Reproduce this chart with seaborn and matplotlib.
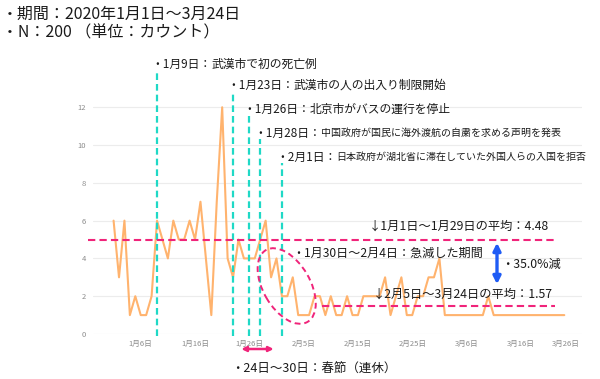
import numpy as np
import pandas as pd
import matplotlib
matplotlib.use("Agg")
import matplotlib.pyplot as plt
import matplotlib.dates as mdates
import matplotlib.transforms as mtransforms
from matplotlib.patches import Ellipse, FancyArrowPatch
import seaborn as sns

W, H = 600, 379

# daily counts, 2020-01-01 .. 2020-03-24
counts = [6, 3, 6, 1, 2, 1, 1, 2, 6, 5, 4, 6, 5, 5, 6, 5, 7, 4, 1, 7, 12, 4, 3, 5, 4, 4, 4, 5, 6,
          3, 4, 2, 2, 3, 1,
          1, 1, 2, 2, 1, 2, 1, 1, 2, 1, 1, 2, 2, 2, 2, 3, 1, 2, 3, 1, 1,
          2, 2, 3, 3, 4,
          1, 1, 1, 1, 1, 1, 1, 1,
          2,
          1, 1, 1, 1, 1, 1, 1, 1, 1, 1, 1, 1, 1, 1]
dates = pd.date_range("2020-01-01", "2020-03-24", freq="D")

event_dates = pd.to_datetime(["2020-01-09", "2020-01-23", "2020-01-26", "2020-01-28", "2020-02-01"])
event_heads = ["・1月9日：", "・1月23日：", "・1月26日：", "・1月28日：", "・2月1日："]
event_bodies = ["武漢市で初の死亡例", "武漢市の人の出入り制限開始", "北京市がバスの運行を停止",
                "中国政府が国民に海外渡航の自粛を求める声明を発表",
                "日本政府が湖北省に滞在していた外国人らの入国を拒否"]
event_small = [False, False, False, True, True]

tick_dates = pd.to_datetime(["2020-01-06", "2020-01-16", "2020-01-26", "2020-02-05", "2020-02-15",
                             "2020-02-25", "2020-03-06", "2020-03-16", "2020-03-26"])
tick_labels = [f"{d.month}月{d.day}日" for d in tick_dates]

holiday = pd.to_datetime(["2020-01-24", "2020-01-31"])
avg_before = 4.48
avg_after = 1.57

df = pd.DataFrame({"date": dates, "count": counts})

sns.set_theme(style="white")
plt.rcParams["font.family"] = ["Noto Sans CJK JP", "DejaVu Sans"]

CYAN = "#1fd9c6"
PINK = "#f0247a"
BLUE = "#1f5cf5"
ORANGE = "#ffb36e"
TXT = "#1a1a1a"


def fx(x):
    return x / W


def fy(y):
    return 1 - y / H


fig = plt.figure(figsize=(W / 100, H / 100), dpi=100)
ax = fig.add_axes([fx(93), fy(334), fx(582) - fx(93), fy(99.7) - fy(334)])

sns.lineplot(data=df, x="date", y="count", ax=ax, color=ORANGE, lw=1.5)

x0 = mdates.date2num(dates[0])
ax.set_xlim(x0 - 3.79, x0 + 86.26)
ax.set_ylim(0, 12.4)
ax.set_yticks(range(0, 13, 2))
ax.set_xticks(mdates.date2num(tick_dates))
ax.set_xticklabels(tick_labels)
ax.set_xlabel("")
ax.set_ylabel("")
ax.tick_params(axis="both", length=0, labelsize=5.5, labelcolor="#8c8c8c")
ax.tick_params(axis="y", pad=5)
ax.tick_params(axis="x", pad=4)
ax.grid(axis="y", color="#ececec", lw=0.8)
ax.grid(axis="x", visible=False)
sns.despine(ax=ax, left=True, bottom=True)
last = ax.get_xticklabels()[-1]
last.set_horizontalalignment("right")
last.set_transform(last.get_transform() + mtransforms.ScaledTranslation(5 / 100, 0, fig.dpi_scale_trans))

# events
trans = mtransforms.blended_transform_factory(ax.transData, fig.transFigure)
label_y = [64, 85, 109, 133, 157]
line_top = [73, 91, 115, 139, 163]
shift = mtransforms.ScaledTranslation(-6 / 100, 0, fig.dpi_scale_trans)
for d, head, body, small, ly, lt in zip(event_dates, event_heads, event_bodies, event_small, label_y, line_top):
    xd = mdates.date2num(d)
    ax.plot([xd, xd], [fy(336), fy(lt)], transform=trans, color=CYAN, lw=1.6,
            ls=(0, (3, 1.8)), clip_on=False, zorder=3)
    t = ax.text(xd, fy(ly), head, transform=trans + shift, ha="left", va="center",
                fontsize=8.5, color=TXT)
    ax.annotate(body, xy=(1, 0.5), xycoords=t, ha="left", va="center",
                fontsize=7.2 if small else 8.5, color=TXT)

# average lines
ax.plot([x0 - 4.7, x0 + 81.3], [5.0, 5.0], color=PINK, lw=1.5, ls=(0, (3.5, 2)), clip_on=False, zorder=3)
ax.plot([x0 + 38.4, x0 + 81.3], [1.5, 1.5], color=PINK, lw=1.5, ls=(0, (3.5, 2)), clip_on=False, zorder=3)
fig.text(fx(369), fy(226), f"↓1月1日～1月29日の平均：{avg_before:.2f}", ha="left", va="center",
         fontsize=8.8, color=TXT)
fig.text(fx(373), fy(294), f"↓2月5日～3月24日の平均：{avg_after:.2f}", ha="left", va="center",
         fontsize=8.8, color=TXT)

# drop arrow
arrow = FancyArrowPatch((fx(497), fy(240)), (fx(497), fy(287)), transform=fig.transFigure,
                        arrowstyle="<|-|>", mutation_scale=11, color=BLUE, lw=2.4)
fig.add_artist(arrow)
fig.text(fx(501), fy(264), f"・{avg_after / avg_before * 100:.1f}%減", ha="left", va="center",
         fontsize=8.8, color=TXT)

# sharp drop period
ell = Ellipse((2.867, (H - 286) / 100), 0.83, 0.47, angle=-60, transform=fig.dpi_scale_trans,
              fill=False, edgecolor=PINK, lw=1.4, ls=(0, (3, 2)))
fig.add_artist(ell)
fig.text(fx(292), fy(253), "・1月30日～2月4日：急減した期間", ha="left", va="center",
         fontsize=8.7, color=TXT)

# spring festival
hx = mdates.date2num(holiday)
sf = FancyArrowPatch((hx[0], fy(349)), (hx[1], fy(349)), transform=trans,
                     arrowstyle="<|-|>", mutation_scale=7, color=PINK, lw=1.8)
fig.add_artist(sf)
fig.text(fx(231), fy(369), "・24日～30日：春節（連休）", ha="left", va="center",
         fontsize=9, color=TXT)

# header
fig.text(fx(2), fy(14), "・期間：2020年1月1日～3月24日", ha="left", va="center", fontsize=11.5, color=TXT)
fig.text(fx(2), fy(33), "・N：200 （単位：カウント）", ha="left", va="center", fontsize=11.5, color=TXT)

fig.savefig("out.png", dpi=100)
